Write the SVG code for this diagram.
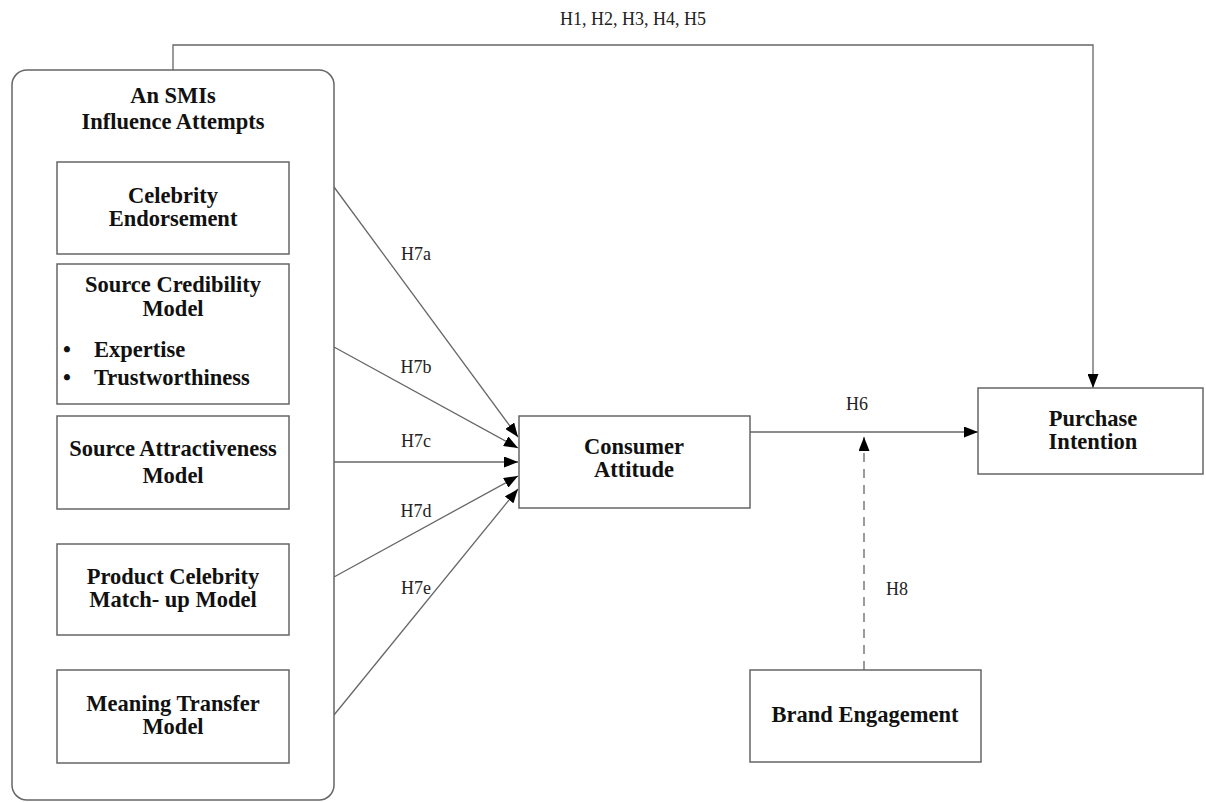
<svg xmlns="http://www.w3.org/2000/svg" width="1206" height="802" viewBox="0 0 1206 802">
<style>
.box{fill:#fff;stroke:#666;stroke-width:1.5}
.t{font-family:"Liberation Serif",serif;font-weight:bold;font-size:22.5px;fill:#111;text-anchor:middle}
.tl{font-family:"Liberation Serif",serif;font-weight:bold;font-size:22.5px;fill:#111}
.lab{font-family:"Liberation Serif",serif;font-size:18px;fill:#222;text-anchor:middle}
.ln{fill:none;stroke:#666;stroke-width:1.3}
</style>
<defs>
<marker id="ah" viewBox="0 0 14 11" refX="14" refY="5.5" markerWidth="14" markerHeight="11" markerUnits="userSpaceOnUse" orient="auto">
<path d="M0,0 L14,5.5 L0,11 z" fill="#000"/>
</marker>
</defs>
<rect width="1206" height="802" fill="#fff"/>
<g id="connectors">
<polyline class="ln" points="173,70 173,45 1093,45 1093,388" marker-end="url(#ah)"/>
<line class="ln" x1="334" y1="187" x2="518" y2="437" marker-end="url(#ah)"/>
<line class="ln" x1="334" y1="347" x2="518" y2="448" marker-end="url(#ah)"/>
<line class="ln" x1="334" y1="462" x2="518" y2="462" marker-end="url(#ah)"/>
<line class="ln" x1="334" y1="577" x2="518" y2="476" marker-end="url(#ah)"/>
<line class="ln" x1="334" y1="715" x2="518" y2="489" marker-end="url(#ah)"/>
<line class="ln" x1="750" y1="432" x2="978" y2="432" marker-end="url(#ah)"/>
<line class="ln" x1="864" y1="670" x2="864" y2="437" stroke-dasharray="9,7" marker-end="url(#ah)"/>
<text class="lab" x="633" y="25">H1, H2, H3, H4, H5</text>
<text class="lab" x="416" y="260">H7a</text>
<text class="lab" x="416" y="373">H7b</text>
<text class="lab" x="416" y="447">H7c</text>
<text class="lab" x="416" y="517">H7d</text>
<text class="lab" x="416" y="594">H7e</text>
<text class="lab" x="857" y="410">H6</text>
<text class="lab" x="897" y="595">H8</text>
</g>
<g id="smi-group">
<rect class="box" x="12" y="70" width="322" height="730" rx="15"/>
<text class="t" x="173" y="103">An SMIs</text>
<text class="t" x="173" y="129">Influence Attempts</text>
</g>
<g id="celebrity-endorsement">
<rect class="box" x="57" y="162" width="232" height="92"/>
<text class="t" x="173" y="203">Celebrity</text>
<text class="t" x="173" y="226">Endorsement</text>
</g>
<g id="source-credibility">
<rect class="box" x="57" y="264" width="232" height="140"/>
<text class="t" x="173" y="292">Source Credibility</text>
<text class="t" x="173" y="316">Model</text>
<text class="tl" x="63" y="357">•</text>
<text class="tl" x="94" y="357">Expertise</text>
<text class="tl" x="63" y="385">•</text>
<text class="tl" x="94" y="385">Trustworthiness</text>
</g>
<g id="source-attractiveness">
<rect class="box" x="57" y="416" width="232" height="93"/>
<text class="t" x="173" y="456">Source Attractiveness</text>
<text class="t" x="173" y="483">Model</text>
</g>
<g id="product-matchup">
<rect class="box" x="57" y="544" width="232" height="91"/>
<text class="t" x="173" y="584">Product Celebrity</text>
<text class="t" x="173" y="607">Match- up Model</text>
</g>
<g id="meaning-transfer">
<rect class="box" x="57" y="670" width="232" height="93"/>
<text class="t" x="173" y="711">Meaning Transfer</text>
<text class="t" x="173" y="734">Model</text>
</g>
<g id="consumer-attitude">
<rect class="box" x="519" y="416" width="231" height="92"/>
<text class="t" x="634" y="454">Consumer</text>
<text class="t" x="634" y="477">Attitude</text>
</g>
<g id="purchase-intention">
<rect class="box" x="978" y="388" width="225" height="86"/>
<text class="t" x="1093" y="426">Purchase</text>
<text class="t" x="1093" y="449">Intention</text>
</g>
<g id="brand-engagement">
<rect class="box" x="750" y="670" width="231" height="92"/>
<text class="t" x="865" y="722">Brand Engagement</text>
</g>
</svg>
